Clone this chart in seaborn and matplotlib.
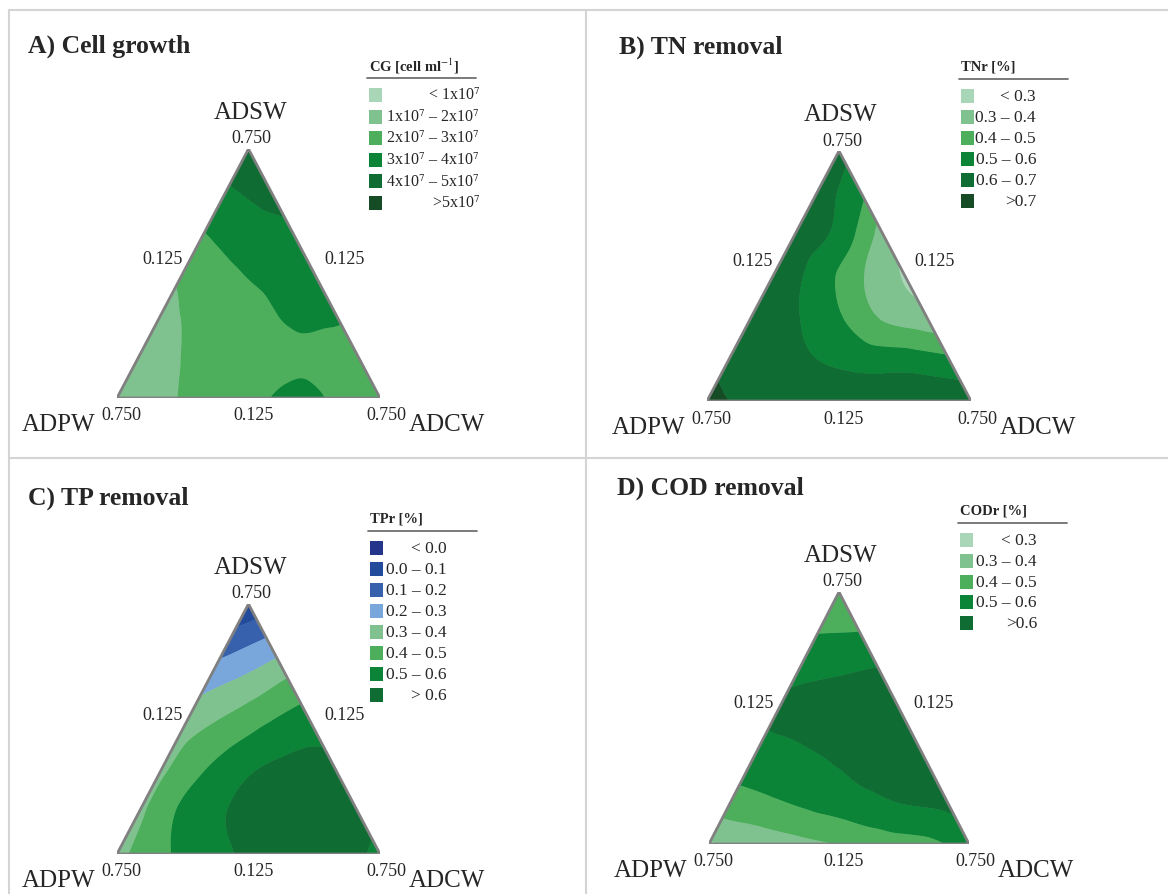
import numpy as np
import pandas as pd
import seaborn as sns
import matplotlib
matplotlib.use('Agg')
import matplotlib.pyplot as plt
import matplotlib.tri as mtri
from matplotlib.patches import Rectangle, Polygon
from matplotlib.lines import Line2D

# ---- estimated response values on a 6-division lattice of the triangle ----
# rows go from the bottom edge (ADPW -> ADCW) up to the ADSW apex
cg_rows = [
    [0.95, 1.70, 2.45, 2.75, 3.20, 2.90, 2.50],
    [1.60, 2.02, 2.40, 2.60, 2.85, 2.70],
    [1.80, 2.25, 2.60, 3.15, 3.10],
    [2.15, 2.80, 3.30, 3.60],
    [3.00, 3.60, 3.85],
    [3.90, 4.30],
    [4.60],
]
tn_rows = [
    [0.71, 0.69, 0.68, 0.68, 0.69, 0.70, 0.68],
    [0.69, 0.66, 0.60, 0.56, 0.55, 0.52],
    [0.68, 0.61, 0.51, 0.39, 0.34],
    [0.68, 0.56, 0.41, 0.29],
    [0.67, 0.57, 0.36],
    [0.66, 0.52],
    [0.64],
]
tp_rows = [
    [0.37, 0.48, 0.55, 0.62, 0.65, 0.64, 0.58],
    [0.38, 0.52, 0.60, 0.65, 0.66, 0.63],
    [0.38, 0.50, 0.59, 0.63, 0.62],
    [0.36, 0.44, 0.52, 0.57],
    [0.28, 0.35, 0.44],
    [0.16, 0.24],
    [0.02],
]
cod_rows = [
    [0.29, 0.33, 0.37, 0.405, 0.45, 0.475, 0.54],
    [0.46, 0.49, 0.53, 0.57, 0.605, 0.625],
    [0.54, 0.57, 0.61, 0.64, 0.63],
    [0.615, 0.64, 0.66, 0.66],
    [0.585, 0.60, 0.62],
    [0.50, 0.505],
    [0.44],
]

cg_levels = [-10, 1, 2, 3, 4, 5, 10]
cg_labels = ['< 1x10$^7$', '1x10$^7$ – 2x10$^7$', '2x10$^7$ – 3x10$^7$',
             '3x10$^7$ – 4x10$^7$', '4x10$^7$ – 5x10$^7$', '>5x10$^7$']
tn_levels = [-1, 0.3, 0.4, 0.5, 0.6, 0.7, 2]
tn_labels = ['< 0.3', '0.3 – 0.4', '0.4 – 0.5', '0.5 – 0.6', '0.6 – 0.7', '>0.7']
tp_levels = [-1, 0.0, 0.1, 0.2, 0.3, 0.4, 0.5, 0.6, 2]
tp_labels = ['< 0.0', '0.0 – 0.1', '0.1 – 0.2', '0.2 – 0.3', '0.3 – 0.4',
             '0.4 – 0.5', '0.5 – 0.6', '> 0.6']
cod_levels = [-1, 0.3, 0.4, 0.5, 0.6, 2]
cod_labels = ['< 0.3', '0.3 – 0.4', '0.4 – 0.5', '0.5 – 0.6', '>0.6']

vertex_names = ['ADPW', 'ADCW', 'ADSW']
corner_tick = '0.750'
mid_tick = '0.125'

greens = ['#a9d6b6', '#80c28f', '#4daf5c', '#0b8437', '#0f6c33', '#154c26']
blues = ['#25358b', '#224b9b', '#3761ac', '#79a7dc']
tp_colors = blues + greens[1:5]
cod_colors = greens[:5]

sns.set_theme(style='white')
plt.rcParams['font.family'] = ['Liberation Serif', 'DejaVu Serif']
plt.rcParams['mathtext.fontset'] = 'stix'

W, H = 1168, 895
fig = plt.figure(figsize=(W / 100, H / 100), dpi=100)


def fx(x):
    return x / W


def fy(y):
    return 1 - y / H


def lattice(rows):
    n = len(rows) - 1
    xs, ys, zs = [], [], []
    for j, row in enumerate(rows):
        for i, v in enumerate(row):
            xs.append((i + j / 2) / n)
            ys.append(j / n)
            zs.append(v)
    return pd.DataFrame({'x': xs, 'y': ys, 'z': zs})


def ternary_panel(bl, br_x, apex_y, rows, levels, colors, title, title_xy,
                  leg_title, leg_labels, leg_x, leg_y0, leg_step, leg_right, leg_size=12.5):
    blx, bly = bl
    ax = fig.add_axes([fx(blx), fy(bly), fx(br_x - blx), (bly - apex_y) / H])
    df = lattice(rows)
    tri = mtri.Triangulation(df['x'], df['y'])
    refiner = mtri.UniformTriRefiner(tri)
    interp = mtri.CubicTriInterpolator(tri, df['z'].values, kind='geom')
    tri_f, z_f = refiner.refine_field(df['z'].values, triinterpolator=interp, subdiv=5)
    # drawn twice to hide hairline seams between filled bands
    ax.tricontourf(tri_f, z_f, levels=levels, colors=colors, antialiased=True)
    ax.tricontourf(tri_f, z_f, levels=levels, colors=colors, antialiased=True)
    ax.add_patch(Polygon([[0, 0], [1, 0], [0.5, 1]], closed=True, fill=False,
                         edgecolor='#808080', lw=2.0, joinstyle='miter', zorder=5))
    ax.set_xlim(0, 1)
    ax.set_ylim(0, 1)
    ax.axis('off')

    def lab(xy, dxy, s, size):
        ax.annotate(s, xy=xy, xytext=(dxy[0] * 0.72, dxy[1] * 0.72),
                    textcoords='offset points', ha='center', va='center',
                    fontsize=size, annotation_clip=False)

    lab((0.5, 1), (2, 37), vertex_names[2], 18)
    lab((0.5, 1), (3, 11), corner_tick, 13)
    lab((0.25, 0.5), (-20, 15), mid_tick, 13)
    lab((0.75, 0.5), (30, 15), mid_tick, 13)
    lab((0.5, 0), (5, -17), mid_tick, 13)
    lab((0, 0), (4, -17), corner_tick, 13)
    lab((1, 0), (6, -17), corner_tick, 13)
    lab((0, 0), (-58, -26), vertex_names[0], 18)
    lab((1, 0), (67, -26), vertex_names[1], 18)

    fig.text(fx(title_xy[0]), fy(title_xy[1]), title, fontsize=18.5,
             fontweight='bold', ha='left', va='center')
    fig.text(fx(leg_x), fy(leg_y0 - 30), leg_title, fontsize=10.5,
             fontweight='bold', ha='left', va='center')
    fig.add_artist(Line2D([fx(leg_x - 2), fx(leg_x + 107)],
                          [fy(leg_y0 - 17), fy(leg_y0 - 17)],
                          color='#707070', lw=1.3))
    for k, (c, s) in enumerate(zip(colors, leg_labels)):
        yc = leg_y0 + k * leg_step
        fig.add_artist(Rectangle((fx(leg_x), fy(yc + 7)), 13 / W, 14 / H,
                                 facecolor=c, edgecolor='none'))
        fig.text(fx(leg_right), fy(yc), s, fontsize=leg_size, ha='right', va='center')
    return ax


ternary_panel((117, 399), 380, 150, cg_rows, cg_levels, greens, 'A) Cell growth', (28, 46),
              'CG [cell ml$^{-1}$]', cg_labels, 369, 96, 21.6, 480, leg_size=11.5)
ternary_panel((707, 402), 971, 152, tn_rows, tn_levels, greens, 'B) TN removal', (619, 47),
              'TNr [%]', tn_labels, 961, 97, 21.0, 1036)
ternary_panel((117, 855), 380, 605, tp_rows, tp_levels, tp_colors, 'C) TP removal', (28, 498),
              'TPr [%]', tp_labels, 370, 549, 21.0, 447)
ternary_panel((709, 845), 969, 593, cod_rows, cod_levels, cod_colors, 'D) COD removal', (617, 488),
              'CODr [%]', cod_labels, 960, 541, 20.8, 1037)

# panel frame lines
grid_c = '#d4d4d4'
for (x0, y0, x1, y1) in [(9, 11, W, 11), (9, 11, 9, H), (586, 11, 586, H), (9, 459, W, 459)]:
    fig.add_artist(Line2D([fx(x0), fx(x1)], [fy(y0), fy(y1)], color=grid_c, lw=1.5))

fig.savefig('out.png', dpi=100)
